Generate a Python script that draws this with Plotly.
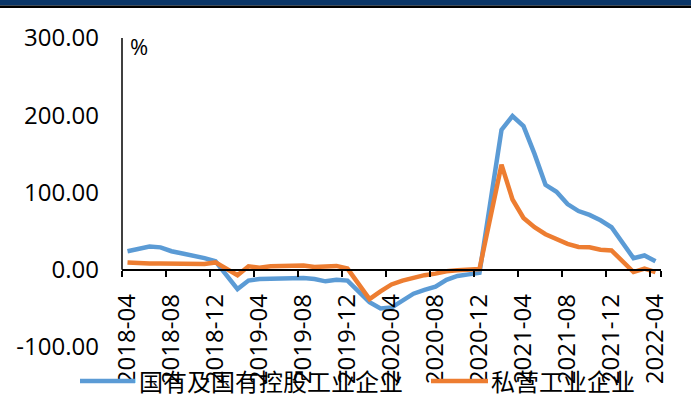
import plotly.graph_objects as go

# ---- data ----
months = []
for y in range(2018, 2023):
    for m in range(1, 13):
        if (y == 2018 and m < 4) or (y == 2022 and m > 4):
            continue
        months.append(f"{y}-{m:02d}")

soe = [24, 27, 30, 29, 24, 21, 18.5, 15, 11,
       None, -25, -14, -12, -11.5, -11, -10.5, -10.8, -12, -15, -13, -14,
       None, -42, -50, -49, -40, -31, -26, -22, -13, -8, -6, -4,
       None, 181, 199, 186, 150, 110, 101, 85, 76, 71, 64, 55,
       None, 15, 18.5, 11]
private = [9.5, 8.5, 8, 8, 7.8, 7, 6.5, 7.5, 9.5,
           None, -7, 4.5, 2.5, 4.5, 5, 5.5, 5.5, 3.5, 4, 5, 1.5,
           None, -38, -28, -19, -14, -10, -7, -5, -2, -0.5, 0.5, 1,
           None, 136, 91, 67, 55, 46, 39, 33.5, 29.5, 29, 26, 25,
           None, -3, 1.5, -3]
series_names = ["国有及国有控股工业企业", "私营工业企业"]
colors = ["#5B9BD5", "#ED7D31"]
y_ticks = [-100, 0, 100, 200, 300]
x_tick_labels = months[::4]

FONT = "Open Sans, Noto Sans CJK SC, sans-serif"

# plot-area geometry (pixels)
L, R, T, B = 122, 30, 38, 51
W, H = 691, 398
PW, PH = W - L - R, H - T - B


def px_x(p):
    return (p - L) / PW


def px_y(p):
    return (H - B - p) / PH


fig = go.Figure()
for name, vals, c in zip(series_names, [soe, private], colors):
    fig.add_trace(go.Scatter(x=months, y=vals, name=name, mode="lines",
                             connectgaps=True, showlegend=False,
                             line=dict(color=c, width=4.5)))

fig.update_layout(
    width=W, height=H,
    margin=dict(l=L, r=R, t=T, b=B, autoexpand=False),
    paper_bgcolor="white", plot_bgcolor="white",
    font=dict(family=FONT, size=24, color="#000000"),
    showlegend=False,
    xaxis=dict(type="category", range=[-0.5, len(months) - 0.5],
               anchor="free", position=0.25, automargin=False,
               tickmode="array", tickvals=x_tick_labels, ticktext=x_tick_labels,
               tickson="boundaries", tickangle=-90,
               ticks="outside", ticklen=6, tickcolor="#000", tickwidth=1.5,
               showline=True, linecolor="#000", linewidth=1.5,
               showgrid=False, zeroline=False,
               ticklabelstandoff=14,
               tickfont=dict(size=24, family=FONT)),
    yaxis=dict(range=[-100, 300], tickmode="array", tickvals=y_ticks,
               ticktext=[f"{v:.2f}" for v in y_ticks], automargin=False,
               ticks="", showline=False, showgrid=False, zeroline=False,
               ticklabelstandoff=22,
               tickfont=dict(size=24, family=FONT)),
)

# vertical axis line from 0 to 300
fig.add_shape(type="line", xref="paper", yref="y", x0=0, x1=0, y0=0, y1=300,
              line=dict(color="#000", width=1.5))
# title band (cut off at top)
fig.add_shape(type="rect", xref="paper", yref="paper",
              x0=px_x(-10), x1=px_x(W + 10), y0=px_y(5.5), y1=px_y(-2),
              fillcolor="#0B3668", line_width=0, layer="above")
fig.add_shape(type="rect", xref="paper", yref="paper",
              x0=px_x(-10), x1=px_x(W + 10), y0=px_y(8), y1=px_y(5.5),
              fillcolor="#000000", line_width=0, layer="above")

fig.add_annotation(text="%", xref="paper", yref="paper", x=px_x(128), y=px_y(46.5),
                   xanchor="left", yanchor="middle", showarrow=False,
                   font=dict(size=22, family=FONT, color="#000"))

# manual legend
leg_y = 381
leg_items = [(80, 135, 138), (431, 488, 490)]
for (lx0, lx1, tx), name, c in zip(leg_items, series_names, colors):
    fig.add_shape(type="line", xref="paper", yref="paper",
                  x0=px_x(lx0), x1=px_x(lx1), y0=px_y(leg_y), y1=px_y(leg_y),
                  line=dict(color=c, width=4.5))
    fig.add_annotation(text=name, xref="paper", yref="paper", x=px_x(tx), y=px_y(leg_y),
                       xanchor="left", yanchor="middle", showarrow=False,
                       borderpad=0,
                       font=dict(size=24, family=FONT, color="#000"))

fig.write_html("out.html")
